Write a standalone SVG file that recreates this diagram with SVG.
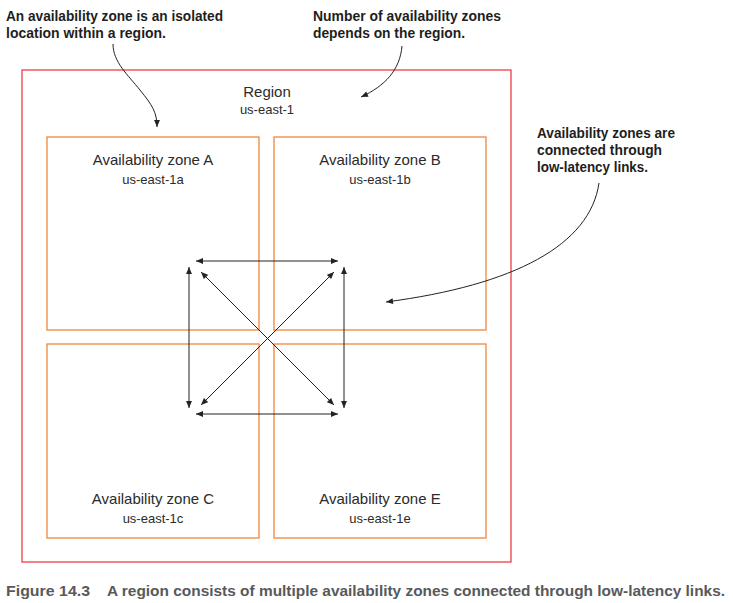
<svg xmlns="http://www.w3.org/2000/svg" width="733" height="603" viewBox="0 0 733 603">
<style>
.region{fill:none;stroke:#ef3e46;stroke-width:1.3}
.zone{fill:none;stroke:#f5843c;stroke-width:1.3}
.t{font-family:"Liberation Sans",Arial,sans-serif;fill:#2b2b2b;text-anchor:middle}
.t1{font-size:15px}
.t2{font-size:13px}
.note{font-family:"Liberation Sans",Arial,sans-serif;font-weight:bold;font-size:15px;fill:#1e1e1e}
.cap{font-family:"Liberation Sans",Arial,sans-serif;font-weight:bold;font-size:15px;fill:#58595b}
.ln{fill:none;stroke:#222;stroke-width:1}
</style>
<defs>
<marker id="ah" viewBox="0 0 10 10" refX="10" refY="5" markerWidth="8" markerHeight="7" markerUnits="userSpaceOnUse" orient="auto-start-reverse">
<path d="M0,0.8 L10,5 L0,9.2 z" fill="#222"/>
</marker>
</defs>
<rect width="733" height="603" fill="#fff"/>
<g id="region">
<rect class="region" x="22" y="70" width="489" height="492"/>
<text class="t t1" x="267" y="97">Region</text>
<text class="t t2" x="267" y="114">us-east-1</text>
</g>
<g id="zoneA">
<rect class="zone" x="47" y="137" width="212" height="193"/>
<text class="t t1" x="153" y="165">Availability zone A</text>
<text class="t t2" x="153" y="184">us-east-1a</text>
</g>
<g id="zoneB">
<rect class="zone" x="274" y="137" width="212" height="193"/>
<text class="t t1" x="380" y="165">Availability zone B</text>
<text class="t t2" x="380" y="184">us-east-1b</text>
</g>
<g id="zoneC">
<rect class="zone" x="47" y="344" width="212" height="194"/>
<text class="t t1" x="153" y="504">Availability zone C</text>
<text class="t t2" x="153" y="523">us-east-1c</text>
</g>
<g id="zoneE">
<rect class="zone" x="274" y="344" width="212" height="194"/>
<text class="t t1" x="380" y="504">Availability zone E</text>
<text class="t t2" x="380" y="523">us-east-1e</text>
</g>
<g id="connectors">
<line class="ln" x1="196" y1="261" x2="338" y2="261" marker-start="url(#ah)" marker-end="url(#ah)"/>
<line class="ln" x1="196" y1="414" x2="338" y2="414" marker-start="url(#ah)" marker-end="url(#ah)"/>
<line class="ln" x1="189" y1="267" x2="189" y2="408" marker-start="url(#ah)" marker-end="url(#ah)"/>
<line class="ln" x1="344" y1="267" x2="344" y2="408" marker-start="url(#ah)" marker-end="url(#ah)"/>
<line class="ln" x1="201" y1="272" x2="334" y2="405" marker-start="url(#ah)" marker-end="url(#ah)"/>
<line class="ln" x1="334" y1="272" x2="201" y2="405" marker-start="url(#ah)" marker-end="url(#ah)"/>
<path class="ln" d="M113,44 C113,62 128,75 140,90 C152,105 157,112 157,127" marker-end="url(#ah)"/>
<path class="ln" d="M402,46 C400,70 385,86 361,97" marker-end="url(#ah)"/>
<path class="ln" d="M599,183 C590,245 515,285 386,302" marker-end="url(#ah)"/>
</g>
<g id="note-left">
<text class="note" x="6" y="21" textLength="217" lengthAdjust="spacingAndGlyphs">An availability zone is an isolated</text>
<text class="note" x="6" y="38" textLength="160" lengthAdjust="spacingAndGlyphs">location within a region.</text>
</g>
<g id="note-top">
<text class="note" x="313" y="21" textLength="188" lengthAdjust="spacingAndGlyphs">Number of availability zones</text>
<text class="note" x="313" y="38" textLength="152" lengthAdjust="spacingAndGlyphs">depends on the region.</text>
</g>
<g id="note-right">
<text class="note" x="537" y="138" textLength="138" lengthAdjust="spacingAndGlyphs">Availability zones are</text>
<text class="note" x="537" y="155" textLength="125" lengthAdjust="spacingAndGlyphs">connected through</text>
<text class="note" x="537" y="172" textLength="111" lengthAdjust="spacingAndGlyphs">low-latency links.</text>
</g>
<g id="caption">
<text class="cap" x="6" y="596" textLength="84" lengthAdjust="spacingAndGlyphs">Figure 14.3</text>
<text class="cap" x="107" y="596" textLength="618" lengthAdjust="spacingAndGlyphs">A region consists of multiple availability zones connected through low-latency links.</text>
</g>
</svg>
